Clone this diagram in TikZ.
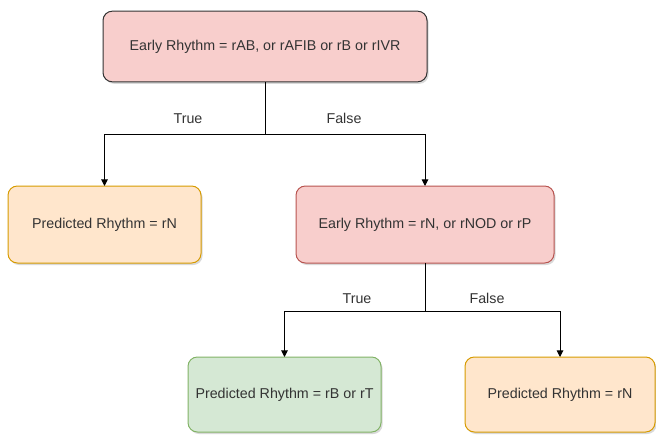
\documentclass[tikz,border=0pt]{standalone}
\usepackage{fontspec}
\setmainfont{Liberation Sans}
\usetikzlibrary{arrows.meta,shadows}

\definecolor{redfill}{HTML}{F8CECC}
\definecolor{redline}{HTML}{B85450}
\definecolor{orangefill}{HTML}{FFE6CC}
\definecolor{orangeline}{HTML}{D79B00}
\definecolor{greenfill}{HTML}{D5E8D4}
\definecolor{greenline}{HTML}{82B366}
\definecolor{textgray}{HTML}{333333}

\tikzset{
	rhythmbox/.style={draw, rounded corners=7pt, inner sep=0pt, outer sep=0pt,
		text=textgray, line width=0.75pt,
		drop shadow={shadow xshift=1.2pt, shadow yshift=-1.5pt, opacity=0.3}},
	condbox/.style={rhythmbox, fill=redfill},
	predbox/.style={rhythmbox, fill=orangefill, draw=orangeline},
	okbox/.style={rhythmbox, fill=greenfill, draw=greenline},
	branch/.style={-{Triangle[length=5pt,width=5pt]}, line width=0.75pt},
	branchlabel/.style={text=textgray, text height=8pt, text depth=2pt}
}

\begin{document}
\begin{tikzpicture}[x=0.75pt, y=-0.75pt, font=\fontsize{10.7}{12}\selectfont]
	\useasboundingbox (0,0) rectangle (656,435);
	
	% Entscheidungen
	\node[condbox, draw=black!80, minimum width=243pt, minimum height=53pt] (early1) at (265,46.5) {Early Rhythm = rAB, or rAFIB or rB or rIVR};
	\node[predbox, minimum width=144.75pt, minimum height=57.75pt] (predN1) at (104.5,224.5) {Predicted Rhythm = rN};
	\node[condbox, draw=redline, minimum width=193.5pt, minimum height=57.75pt] (early2) at (425,224.5) {Early Rhythm = rN, or rNOD or rP};
	\node[okbox, minimum width=144.75pt, minimum height=56.25pt] (predBT) at (284.5,394.5) {Predicted Rhythm = rB or rT};
	\node[predbox, minimum width=142.5pt, minimum height=56.25pt] (predN2) at (560,394.5) {Predicted Rhythm = rN};
	
	% Verzweigungen
	\coordinate (split1) at (265,134);
	\coordinate (split2) at (425,311);
	
	\draw[line width=0.75pt] (early1.south) -- (split1);
	\draw[branch] (split1) -| (predN1.north);
	\draw[branch] (split1) -| (early2.north);
	\draw[line width=0.75pt] (early2.south) -- (split2);
	\draw[branch] (split2) -| (predBT.north);
	\draw[branch] (split2) -| (predN2.north);
	
	% Beschriftungen
	\node[branchlabel] (true1) at (188,119) {True};
	\node[branchlabel] (false1) at (344,119) {False};
	\node[branchlabel] (true2) at (357,299) {True};
	\node[branchlabel] (false2) at (487,299) {False};
	
\end{tikzpicture}
\end{document}
